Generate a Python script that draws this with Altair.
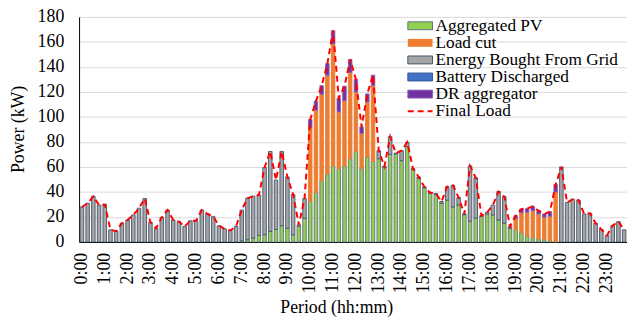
import altair as alt
import pandas as pd

periods = [f"{h}:{m:02d}" for h in range(24) for m in (0, 15, 30, 45)]
hour_labels = [f"{h}:00" for h in range(24)]
y_ticks = [0, 20, 40, 60, 80, 100, 120, 140, 160, 180]

series_names = ["Aggregated PV", "Load cut", "Energy Bought From Grid",
                "Battery Discharged", "DR aggregator"]
series_colors = ["#92D050", "#ED7D31", "#A5A5A5", "#4472C4", "#7030A0"]
series_strokes = ["#5E7080", "#ED7D31", "#44546A", "#2F5597", "#8E63B8"]
line_label = "Final Load"

pv = [0, 0, 0, 0, 0, 0, 0, 0,
      0, 0, 0, 0, 0, 0, 0, 0,
      0, 0, 0, 0, 0, 0, 0, 0,
      0, 0, 0, 0, 0.8, 1.8, 3.2, 5.3,
      5.8, 8.5, 10, 13, 11, 5.8, 12.4, 19,
      32.4, 39.5, 49, 54.5, 60.8, 58.7, 60.8, 66.6,
      72.4, 58.7, 68, 64.5, 66.6, 60, 70, 70.5,
      65, 76.3, 58, 51.3, 43.4, 39, 38.2, 31,
      33.4, 28, 29.5, 21.8, 16.6, 19, 20.5, 22.4,
      21.6, 17.6, 15, 11, 10, 7.4, 4.7, 3.4,
      2.6, 1.8, 1.3, 0.3, 0, 0, 0, 0,
      0, 0, 0, 0, 0, 0, 0, 0]

load_cut = [0, 0, 0, 0, 0, 0, 0, 0,
            0, 0, 0, 0, 0, 0, 0, 0,
            0, 0, 0, 0, 0, 0, 0, 0,
            0, 0, 0, 0, 0, 0, 0, 0,
            0, 0, 0, 0, 0, 0, 0, 0,
            58.9, 66, 69, 78.9, 97.6, 45.3, 52.2, 68.9,
            47.6, 28.1, 44, 60.5, 0, 0, 0, 0,
            0, 0, 0, 0, 0, 0, 0, 0,
            0, 0, 0, 0, 0, 0, 0, 0,
            0, 0, 0, 0, 8.5, 15.9, 19.1, 21.6,
            19.8, 18, 19.2, 39.7, 0, 0, 0, 0,
            0, 0, 0, 0, 0, 0, 0, 0]

grid = [28, 31, 36.5, 29.5, 30, 9.7, 8.7, 15,
        17.6, 21.6, 27, 34.7, 15.8, 11, 19.7, 25.5,
        17.6, 16.3, 12.4, 17, 17, 25.5, 22.4, 20.3,
        13, 10.5, 9.2, 12.4, 24.7, 33.2, 33.4, 32.3,
        53.7, 63.9, 39.5, 59.4, 41, 32.2, 1.3, 15.7,
        0, 0, 0, 0, 0, 0, 0, 0,
        0, 0, 0, 0, 6.4, 0.5, 14.2, 0.5,
        8, 3.4, 0.7, 0.7, 0.6, 0.5, 0.5, 1.4,
        10.8, 17.3, 6, 0.6, 44.2, 32.3, 0.5, 1.3,
        7.9, 22.7, 21.3, 1.4, 0, 0, 0, 0,
        0, 0, 0, 0, 60, 31.6, 34.2, 33.4,
        22.4, 22.9, 15, 10, 5.3, 13.2, 16.3, 9.7]

battery = [0] * 96

dr = [0, 0, 0, 0, 0, 0, 0, 0,
      0, 0, 0, 0, 0, 0, 0, 0,
      0, 0, 0, 0, 0, 0, 0, 0,
      0, 0, 0, 0, 0, 0, 0, 0,
      0, 0, 0, 0, 0, 0, 0, 0,
      6.7, 7.1, 7, 9.2, 10.6, 11, 11.5, 10.5,
      10, 5.2, 6.4, 8.4, 0, 0, 0, 0,
      0, 0, 0, 0, 0, 0, 0, 0,
      0, 0, 0, 0, 0, 0, 0, 0,
      0, 0, 0, 0, 2.5, 3, 3, 3.4,
      2.6, 2.6, 3.7, 6, 0, 0, 0, 0,
      0, 0, 0, 0, 0, 0, 0, 0]

all_series = [pv, load_cut, grid, battery, dr]

rows = []
for i, p in enumerate(periods):
    for k, name in enumerate(series_names):
        v = all_series[k][i]
        if v > 0:
            rows.append({"period": p, "series": name, "value": v, "order": k})
bars_df = pd.DataFrame(rows)

final_load = [round(sum(s[i] for s in all_series), 2) for i in range(96)]
line_df = pd.DataFrame({"period": periods, "load": final_load})

FONT = "Times New Roman"

x_scale = alt.Scale(domain=periods, paddingInner=0.38, paddingOuter=0.19)
x_axis = alt.Axis(labels=False, ticks=False, title=None, grid=False,
                  domainColor="black", domainWidth=1)
y_scale = alt.Scale(domain=[0, 180], nice=False)
y_axis = alt.Axis(labels=False, ticks=False, title=None, values=y_ticks,
                  grid=True, gridColor="#D9D9D9", domainColor="black", domainWidth=1)

X = lambda: alt.X("period:N", sort=periods, scale=x_scale, axis=x_axis)

bars = alt.Chart(bars_df).mark_bar(strokeWidth=0.9).encode(
    x=X(),
    y=alt.Y("value:Q", stack="zero", scale=y_scale, axis=y_axis),
    color=alt.Color("series:N",
                    scale=alt.Scale(domain=series_names, range=series_colors),
                    legend=None),
    stroke=alt.Stroke("series:N",
                      scale=alt.Scale(domain=series_names, range=series_strokes),
                      legend=None),
    order=alt.Order("order:Q", sort="ascending"),
)

line = alt.Chart(line_df).mark_line(color="#FF0000", strokeWidth=2,
                                    strokeDash=[6, 4]).encode(
    x=X(),
    y=alt.Y("load:Q", scale=y_scale, axis=y_axis),
)

ylab = alt.Chart(pd.DataFrame({"v": y_ticks})).mark_text(
    font=FONT, fontSize=18, align="right", baseline="middle", color="black"
).encode(x=alt.value(-15), y=alt.Y("v:Q", scale=y_scale, axis=y_axis), text="v:Q")

xlab = alt.Chart(pd.DataFrame({"period": hour_labels})).mark_text(
    font=FONT, fontSize=18, align="right", baseline="middle", angle=270, color="black"
).encode(x=X(), y=alt.value(239), text="period:N")

ytitle = alt.Chart(pd.DataFrame({"t": ["Power (kW)"]})).mark_text(
    font=FONT, fontSize=18, align="center", baseline="middle", angle=270, color="black"
).encode(x=alt.value(-61), y=alt.value(114), text="t:N")

xtitle = alt.Chart(pd.DataFrame({"t": ["Period (hh:mm)"]})).mark_text(
    font=FONT, fontSize=18, align="center", baseline="middle", color="black"
).encode(x=alt.value(261), y=alt.value(295), text="t:N")

leg_layers = []
row_step = 17.3
for k, name in enumerate(series_names + [line_label]):
    ypos = 9 + k * row_step
    leg_layers.append(
        alt.Chart(pd.DataFrame({"t": [name]})).mark_text(
            font=FONT, fontSize=17.5, align="left", baseline="middle", color="black"
        ).encode(x=alt.value(361), y=alt.value(ypos), text="t:N"))
    if k < len(series_names):
        leg_layers.append(
            alt.Chart(pd.DataFrame({"t": [name]})).mark_rect(
                color=series_colors[k], stroke=series_strokes[k] if k != 1 else None,
                strokeWidth=1
            ).encode(x=alt.value(333), x2=alt.value(358),
                     y=alt.value(ypos - 4), y2=alt.value(ypos + 4)))
    else:
        leg_layers.append(
            alt.Chart(pd.DataFrame({"t": [name]})).mark_rule(
                color="#FF0000", strokeWidth=2, strokeDash=[6, 4]
            ).encode(x=alt.value(333), x2=alt.value(358), y=alt.value(ypos)))

chart = alt.layer(bars, line, ylab, xlab, ytitle, xtitle, *leg_layers).properties(
    width=555, height=228,
    autosize=alt.AutoSizeParams(type="none"),
    padding={"left": 72, "top": 7, "right": 0, "bottom": 75},
).configure_view(stroke=None)

chart.save("out.html", embed_options={"renderer": "svg", "actions": False})
